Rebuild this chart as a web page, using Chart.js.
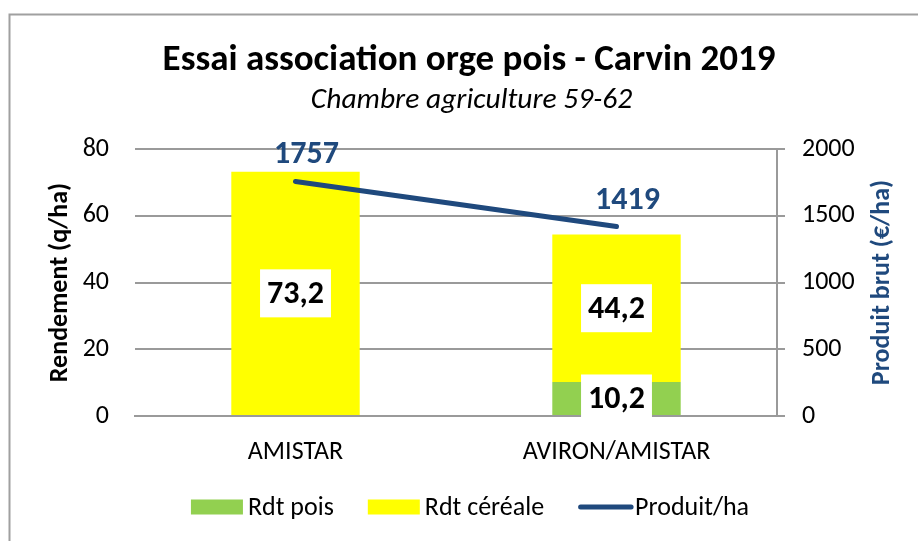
<!DOCTYPE html>
<html><head><meta charset="utf-8">
<script src="https://cdn.jsdelivr.net/npm/chart.js@4"></script>
<style>html,body{margin:0;padding:0;background:#fff}#c{display:block}</style>
</head><body>
<canvas id="c" width="918" height="541"></canvas>
<script>
const categories = ['AMISTAR', 'AVIRON/AMISTAR'];
const rdtPois = [0, 10.2];
const rdtCereale = [73.2, 44.2];
const produitHa = [1757, 1419];
const yTicks = [0, 20, 40, 60, 80];
const y1Ticks = [0, 500, 1000, 1500, 2000];
const seriesNames = ['Rdt pois', 'Rdt céréale', 'Produit/ha'];
const titleText = 'Essai association orge pois - Carvin 2019';
const subtitleText = 'Chambre agriculture 59-62';
const yTitle = 'Rendement (q/ha)';
const y1Title = 'Produit brut (€/ha)';

const FONT = 'Carlito, Lato, "Open Sans", sans-serif';
const GREEN = '#92D050', YELLOW = '#FFFF00', BLUE = '#1F497D', GRID = '#9A9A9A';

const decor = {
  id: 'decor',
  beforeDraw(chart) {
    const ctx = chart.ctx;
    ctx.save();
    ctx.fillStyle = '#fff';
    ctx.fillRect(0, 0, chart.width, chart.height);
    ctx.strokeStyle = '#A0A0A0';
    ctx.lineWidth = 2;
    ctx.strokeRect(9.5, 14.5, 1200, 1200);
    ctx.restore();
  },
  afterDatasetsDraw(chart) {
    const ctx = chart.ctx;
    ctx.save();
    ctx.textAlign = 'center';
    ctx.textBaseline = 'middle';
    chart.data.datasets.forEach((ds, i) => {
      const meta = chart.getDatasetMeta(i);
      if (ds.type === 'line') {
        ctx.font = `bold 32px ${FONT}`;
        ctx.fillStyle = BLUE;
        meta.data.forEach((pt, j) => {
          ctx.fillText(String(ds.data[j]), pt.x + 11, pt.y - 26);
        });
      } else {
        ctx.font = `bold 32px ${FONT}`;
        meta.data.forEach((bar, j) => {
          const v = ds.data[j];
          if (!v) return;
          const t = String(v).replace('.', ',');
          const cx = bar.x, cy = (bar.y + bar.base) / 2;
          const w = ctx.measureText(t).width + 14, h = 48;
          ctx.fillStyle = '#fff';
          ctx.fillRect(cx - w / 2, cy - h / 2, w, h);
          ctx.fillStyle = '#000';
          ctx.fillText(t, cx, cy + 2);
        });
      }
    });
    ctx.restore();
  },
  afterDraw(chart) {
    const ctx = chart.ctx;
    const area = chart.chartArea;
    ctx.save();
    ctx.fillStyle = '#000';
    ctx.textAlign = 'center';
    ctx.textBaseline = 'alphabetic';
    ctx.font = `bold 37px ${FONT}`;
    ctx.fillText(titleText, 469, 70);
    ctx.font = `italic 29.5px ${FONT}`;
    ctx.fillText(subtitleText, 471.5, 108);

    const midY = (area.top + area.bottom) / 2;
    ctx.textBaseline = 'middle';
    ctx.font = `bold 26px ${FONT}`;
    ctx.save();
    ctx.translate(60, midY);
    ctx.rotate(-Math.PI / 2);
    ctx.fillText(yTitle, 0, 0);
    ctx.restore();
    ctx.save();
    ctx.translate(882, midY);
    ctx.rotate(-Math.PI / 2);
    ctx.fillStyle = BLUE;
    ctx.fillText(y1Title, 0, 0);
    ctx.restore();

    // legend
    const dsets = chart.data.datasets;
    ctx.font = `26px ${FONT}`;
    const boxW = 52, boxH = 15, gap = 5, itemGap = 34;
    const widths = dsets.map(d => ctx.measureText(d.label).width);
    const total = widths.reduce((s, w) => s + boxW + gap + w, 0) + itemGap * (dsets.length - 1);
    let x = 470 - total / 2;
    const cy = 507;
    ctx.textAlign = 'left';
    ctx.textBaseline = 'alphabetic';
    dsets.forEach((d, i) => {
      if (d.type === 'line') {
        ctx.strokeStyle = d.borderColor;
        ctx.lineWidth = 5;
        ctx.lineCap = 'round';
        ctx.beginPath();
        ctx.moveTo(x + 2.5, cy);
        ctx.lineTo(x + boxW + 1, cy);
        ctx.stroke();
      } else {
        ctx.fillStyle = d.backgroundColor;
        ctx.fillRect(x, cy - boxH / 2, boxW, boxH);
      }
      ctx.fillStyle = '#000';
      ctx.fillText(d.label, x + boxW + gap, 515);
      x += boxW + gap + widths[i] + itemGap;
    });
    ctx.restore();
  }
};

const tickFont = { family: FONT, size: 26 };
const plainTick = v => String(v);

new Chart(document.getElementById('c'), {
  type: 'bar',
  data: {
    labels: categories,
    datasets: [
      { type: 'bar', label: seriesNames[0], data: rdtPois, backgroundColor: GREEN, stack: 's', yAxisID: 'y', order: 2, barPercentage: 0.4, categoryPercentage: 1 },
      { type: 'bar', label: seriesNames[1], data: rdtCereale, backgroundColor: YELLOW, stack: 's', yAxisID: 'y', order: 2, barPercentage: 0.4, categoryPercentage: 1 },
      { type: 'line', label: seriesNames[2], data: produitHa, borderColor: BLUE, backgroundColor: BLUE, borderWidth: 5, borderCapStyle: 'round', pointRadius: 0, yAxisID: 'y1', order: 1, fill: false, tension: 0 }
    ]
  },
  options: {
    responsive: false,
    animation: false,
    devicePixelRatio: 1,
    layout: { padding: { top: 149, left: 0, right: 0, bottom: 55 } },
    plugins: { legend: { display: false }, tooltip: { enabled: false }, title: { display: false } },
    scales: {
      x: {
        stacked: true,
        grid: { display: false, drawTicks: false },
        border: { display: true, color: GRID, width: 2 },
        ticks: { font: tickFont, color: '#000', padding: 21 },
        afterFit: s => { s.height = 70; }
      },
      y: {
        stacked: true,
        position: 'left',
        min: yTicks[0], max: yTicks[yTicks.length - 1],
        afterBuildTicks: s => { s.ticks = yTicks.map(v => ({ value: v })); },
        grid: { color: GRID, lineWidth: 2, drawTicks: false },
        border: { display: false },
        ticks: { font: tickFont, color: '#000', padding: 26, callback: plainTick },
        afterFit: s => { s.width = 135; }
      },
      y1: {
        position: 'right',
        min: y1Ticks[0], max: y1Ticks[y1Ticks.length - 1],
        afterBuildTicks: s => { s.ticks = y1Ticks.map(v => ({ value: v })); },
        grid: { drawOnChartArea: false, drawTicks: true, tickLength: 8, color: GRID, lineWidth: 2 },
        border: { display: true, color: GRID, width: 2 },
        ticks: { font: tickFont, color: '#000', padding: 17, callback: plainTick },
        afterFit: s => { s.width = 141; }
      }
    }
  },
  plugins: [decor]
});
</script>
</body></html>
